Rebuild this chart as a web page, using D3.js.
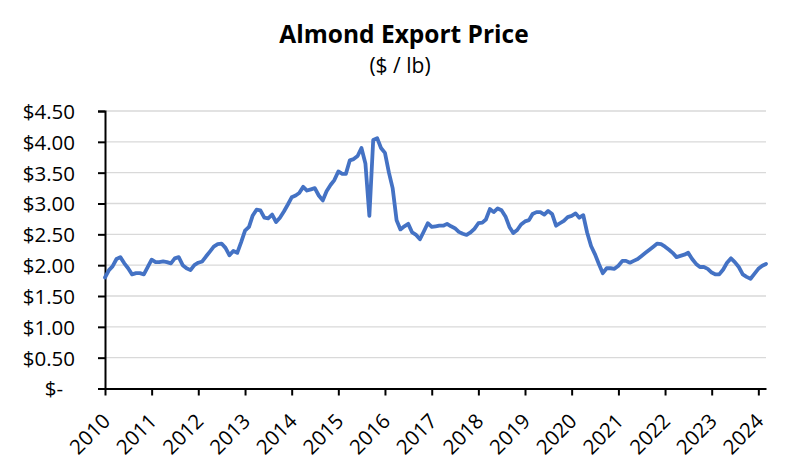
<!DOCTYPE html>
<html lang="en">
    <head>
        <meta charset="UTF-8" />
        <title>Almond Export Price</title>
        <script src="https://cdn.jsdelivr.net/npm/d3@7/dist/d3.min.js"></script>
        <style>
            body { margin: 0; padding: 0; background: #fff; }
            text { font-family: 'Open Sans', sans-serif; fill: #000; }
        </style>
    </head>
    <body>
        <script>
            // monthly series, Jan 2010 .. Mar 2024
            const startYear = 2010;
            const prices = [
                1.80, 1.92, 1.98, 2.10, 2.13, 2.03, 1.95, 1.85, 1.87, 1.87, 1.85, 1.97,
                2.09, 2.05, 2.05, 2.06, 2.05, 2.03, 2.11, 2.13, 2.00, 1.95, 1.92, 2.00,
                2.04, 2.06, 2.14, 2.22, 2.30, 2.34, 2.35, 2.28, 2.16, 2.23, 2.20, 2.37,
                2.56, 2.62, 2.80, 2.90, 2.89, 2.77, 2.76, 2.82, 2.70, 2.77, 2.87, 2.98,
                3.10, 3.13, 3.17, 3.27, 3.21, 3.23, 3.25, 3.13, 3.05, 3.20, 3.30, 3.38,
                3.52, 3.48, 3.48, 3.70, 3.72, 3.77, 3.90, 3.65, 2.80, 4.03, 4.06, 3.90,
                3.82, 3.50, 3.25, 2.73, 2.58, 2.63, 2.67, 2.53, 2.49, 2.42, 2.55, 2.68,
                2.62, 2.63, 2.64, 2.64, 2.67, 2.63, 2.60, 2.54, 2.51, 2.49, 2.53, 2.59,
                2.68, 2.69, 2.74, 2.91, 2.86, 2.92, 2.89, 2.79, 2.62, 2.52, 2.57, 2.66,
                2.71, 2.73, 2.83, 2.86, 2.86, 2.82, 2.88, 2.83, 2.64, 2.68, 2.72, 2.78,
                2.80, 2.84, 2.77, 2.81, 2.53, 2.31, 2.18, 2.02, 1.87, 1.95, 1.95, 1.94,
                1.99, 2.07, 2.07, 2.04, 2.07, 2.10, 2.15, 2.20, 2.25, 2.30, 2.35, 2.34,
                2.30, 2.25, 2.20, 2.13, 2.15, 2.17, 2.20, 2.10, 2.02, 1.97, 1.97, 1.94,
                1.88, 1.85, 1.85, 1.93, 2.04, 2.11, 2.05, 1.97, 1.85, 1.81, 1.78, 1.86,
                1.94, 1.99, 2.02
            ];
            const yearTicks = d3.range(2010, 2025); // 2010 .. 2024
            const priceTicks = [0, 0.5, 1, 1.5, 2, 2.5, 3, 3.5, 4, 4.5];
            const title = 'Almond Export Price';
            const subtitle = '($ / lb)';

            const width = 809;
            const height = 476;
            const margin = { top: 111, right: 43, bottom: 87.5, left: 105 };

            const data = prices.map((v, i) => ({
                date: new Date(startYear, i, 1),
                value: v
            }));

            const svg = d3
                .select('body')
                .append('svg')
                .attr('width', width)
                .attr('height', height);

            const x = d3
                .scaleTime()
                .domain(d3.extent(data, d => d.date))
                .range([margin.left, width - margin.right]);

            const y = d3
                .scaleLinear()
                .domain([0, 4.5])
                .range([height - margin.bottom, margin.top]);

            // gridlines
            svg.append('g')
                .selectAll('line')
                .data(priceTicks.filter(d => d > 0))
                .join('line')
                .attr('x1', margin.left)
                .attr('x2', width - margin.right)
                .attr('y1', d => y(d))
                .attr('y2', d => y(d))
                .attr('stroke', '#d9d9d9')
                .attr('stroke-width', 1.3);

            // y axis
            const fmt = d => (d === 0 ? '$-' : '$' + d3.format('.2f')(d));
            const yAxis = svg
                .append('g')
                .attr('transform', `translate(${margin.left},0)`)
                .call(
                    d3.axisLeft(y)
                        .tickValues(priceTicks)
                        .tickFormat(fmt)
                        .tickSize(7)
                        .tickPadding(23)
                );
            yAxis.select('.domain').attr('stroke', '#000').attr('stroke-width', 2);
            yAxis.selectAll('.tick line').attr('stroke', '#000').attr('stroke-width', 2);
            yAxis.selectAll('.tick text')
                .attr('font-size', 20.5)
                .attr('font-family', "'Open Sans', sans-serif")
                .attr('dy', '0.36em')
                .attr('dx', d => (d === 0 ? -12 : 0));

            // x axis
            const xAxis = svg
                .append('g')
                .attr('transform', `translate(0,${height - margin.bottom})`)
                .call(
                    d3.axisBottom(x)
                        .tickValues(yearTicks.map(yr => new Date(yr, 0, 1)))
                        .tickFormat(d3.timeFormat('%Y'))
                        .tickSize(7)
                        .tickSizeOuter(0)
                );
            xAxis.select('.domain').attr('stroke', '#000').attr('stroke-width', 2);
            xAxis.selectAll('.tick line').attr('stroke', '#000').attr('stroke-width', 2);
            xAxis.selectAll('.tick text')
                .attr('font-size', 20.5)
                .attr('font-family', "'Open Sans', sans-serif")
                .attr('text-anchor', 'end')
                .attr('y', 0)
                .attr('dy', 0)
                .attr('transform', 'translate(6,34) rotate(-45)');

            // price line
            const line = d3
                .line()
                .x(d => x(d.date))
                .y(d => y(d.value));

            svg.append('path')
                .datum(data)
                .attr('d', line)
                .attr('fill', 'none')
                .attr('stroke', '#4472c4')
                .attr('stroke-width', 3.8)
                .attr('stroke-linejoin', 'round')
                .attr('stroke-linecap', 'round');

            // titles
            svg.append('text')
                .attr('x', 404)
                .attr('y', 43)
                .attr('text-anchor', 'middle')
                .attr('font-size', 24.5)
                .attr('font-weight', 'bold')
                .text(title);

            svg.append('text')
                .attr('x', 400)
                .attr('y', 72.5)
                .attr('text-anchor', 'middle')
                .attr('font-size', 21)
                .text(subtitle);
        </script>
    </body>
</html>
